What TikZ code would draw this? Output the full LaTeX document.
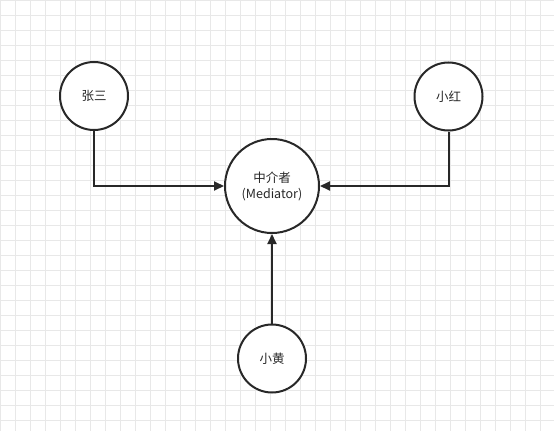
\documentclass[tikz,border=0pt]{standalone}
\usepackage{fontspec}
\newfontfamily\cjk{Noto Sans CJK SC}
\usetikzlibrary{arrows.meta}
\definecolor{grille}{RGB}{232,232,232}
\definecolor{trait}{RGB}{40,40,40}
\tikzset{
  personne/.style={circle,draw=trait,line width=2pt,fill=white,minimum size=68pt,inner sep=0pt,
    align=center,text=trait,font=\cjk\fontsize{12.5}{16}\selectfont},
  fleche/.style={-{Triangle[length=10pt,width=9pt]},draw=trait,line width=2pt}
}
\begin{document}
\begin{tikzpicture}[x=1pt,y=-1pt]
    \useasboundingbox (0,0) rectangle (554,431);
    % grille
    \foreach \i in {0,...,36}{
      \draw[grille,line width=1pt] (\i*15+0.5,0) -- (\i*15+0.5,431);
    }
    \foreach \j in {0,...,28}{
      \draw[grille,line width=1pt] (0,\j*15+0.5) -- (554,\j*15+0.5);
    }
    
    % personnes
    \node[personne] (zhang) at (94,96) {张三};
    \node[personne] (hong) at (448.5,96.5) {小红};
    \node[personne] (huang) at (272,358.5) {小黄};
    \node[personne,minimum size=94pt] (med) at (272,186) {中介者\\(Mediator)};
    
    % liens vers le mediateur
    \draw[fleche] (zhang.south) |- (med.west);
    \draw[fleche] (hong.south) |- (med.east);
    \draw[fleche] (huang.north) -- (med.south);
    
  \end{tikzpicture}
\end{document}
